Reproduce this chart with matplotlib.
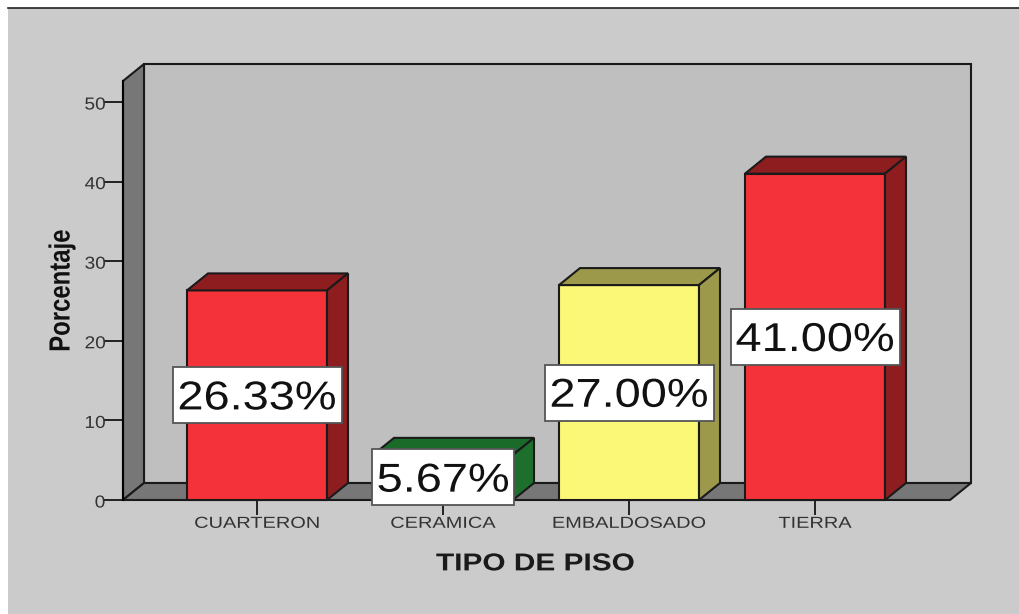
import matplotlib
matplotlib.use("Agg")
import matplotlib.pyplot as plt
from matplotlib.patches import Polygon, Rectangle
from matplotlib.patheffects import AbstractPathEffect
from matplotlib.transforms import Affine2D

categories = ["CUARTERON", "CERAMICA", "EMBALDOSADO", "TIERRA"]
values = [26.33, 5.67, 27.00, 41.00]
labels = ["26.33%", "5.67%", "27.00%", "41.00%"]
yticks = [0, 10, 20, 30, 40, 50]
front = ["#f33339", "#1c702c", "#fbf777", "#f33339"]
top = ["#8e1d20", "#1a6a2a", "#9c994a", "#8e1d20"]
side = ["#8e1d20", "#1c702c", "#9c994a", "#8e1d20"]


class Stretch(AbstractPathEffect):
    """Scale the glyphs of a text about their centre (the source text is stretched)."""
    def __init__(self, sx=1.0, sy=1.0, dy=0.0):
        super().__init__()
        self.sx, self.sy, self.dy = sx, sy, dy

    def draw_path(self, renderer, gc, tpath, affine, rgbFace=None):
        ext = tpath.get_extents(affine)
        cx, cy = (ext.x0 + ext.x1) / 2, (ext.y0 + ext.y1) / 2
        a = affine + Affine2D().translate(-cx, -cy).scale(self.sx, self.sy).translate(cx, cy + self.dy)
        renderer.draw_path(gc, tpath, a, rgbFace)


W, H = 1019, 614
plt.rcParams["font.family"] = ["Liberation Sans", "DejaVu Sans"]
fig = plt.figure(figsize=(W/100, H/100), dpi=100, facecolor="white")
bg = fig.add_axes([0, 0, 1, 1]); bg.set_xlim(0, W); bg.set_ylim(H, 0); bg.axis("off")
bg.add_patch(Rectangle((8, 8), W-8, H-8, fc="#cbcbcb", ec="none"))
bg.plot([8, W], [8, 8], color="#222222", lw=1.2)

x0, x1, ytop, ybot = 123, 950, 81, 500
ax = fig.add_axes([x0/W, 1-ybot/H, (x1-x0)/W, (ybot-ytop)/H])
ppu = (500-102)/50
vmax = (ybot-ytop)/ppu
ax.set_ylim(0, vmax)
ax.set_xlim(x0, x1)
ax.patch.set_alpha(0)
for s in ["top", "right", "bottom"]:
    ax.spines[s].set_visible(False)
ax.spines["left"].set_linewidth(1.5)
ax.set_yticks(yticks)
ax.tick_params(axis="y", length=14, width=1.4, labelsize=12.5, pad=-0.9, color="#222222", labelcolor="#333333")
centers = [257, 443, 629, 815]
ax.set_xticks(centers, categories)
ax.tick_params(axis="x", length=11, width=1.4, labelsize=11.5, pad=0.4, color="#222222", labelcolor="#333333")
for t in ax.get_xticklabels():
    t.set_path_effects([Stretch(sx=1.25)])
for t in ax.get_yticklabels():
    t.set_path_effects([Stretch(sx=1.1, dy=-1.5)])

ax.set_ylabel("Porcentaje", fontsize=21, fontweight="bold", color="#111111",
              path_effects=[Stretch(sy=0.82)])
ax.yaxis.set_label_coords(-0.0574, (500-291)/(ybot-ytop))
ax.set_xlabel("TIPO DE PISO", fontsize=17.6, fontweight="bold", color="#1a1a1a",
              path_effects=[Stretch(sx=1.22)])
ax.xaxis.set_label_coords((535-x0)/(x1-x0), -0.125)

dx, dy = 21, 17/ppu
L = dict(ec="#1a1a1a", lw=1.5, clip_on=False, joinstyle="miter")
ax.add_patch(Polygon([(x0+dx, dy), (x1+dx, dy), (x1+dx, vmax+dy), (x0+dx, vmax+dy)], fc="#bfbfbf", **L))
ax.add_patch(Polygon([(x0, 0), (x0+dx, dy), (x0+dx, vmax+dy), (x0, vmax)], fc="#777777", **L))
ax.add_patch(Polygon([(x0, 0), (x1, 0), (x1+dx, dy), (x0+dx, dy)], fc="#777777", **L))

bw = 140
for c, v, f, t, s, lab in zip(centers, values, front, top, side, labels):
    a, b = c-bw/2, c+bw/2
    ax.add_patch(Rectangle((a, 0), bw, v, fc=f, **L, zorder=3))
    ax.add_patch(Polygon([(a, v), (b, v), (b+dx, v+dy), (a+dx, v+dy)], fc=t, **L, zorder=3))
    ax.add_patch(Polygon([(b, 0), (b+dx, dy), (b+dx, v+dy), (b, v)], fc=s, **L, zorder=3))
    box_w = 169 if len(lab) == 6 else 142
    box_h = 56 / ppu
    ax.add_patch(Rectangle((c-box_w/2, v/2-box_h/2), box_w, box_h, fc="white", ec="#555555",
                           lw=1.3, zorder=5, clip_on=False))
    ax.text(c, v/2, lab, ha="center", va="center_baseline", fontsize=29, color="#111111", zorder=6,
            path_effects=[Stretch(sx=1.165, dy=0.8)])
fig.savefig("out.png", dpi=100)
